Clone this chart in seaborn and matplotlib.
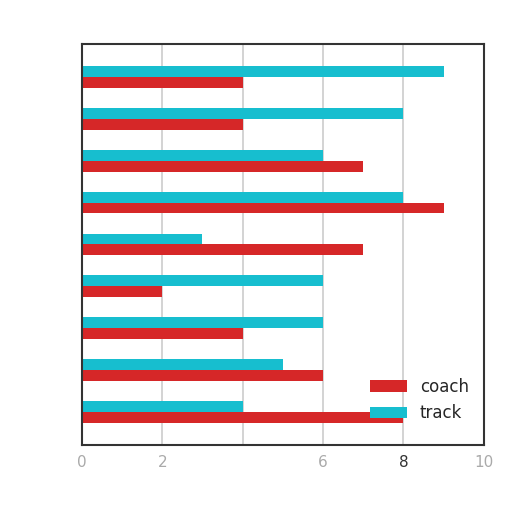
import pandas as pd
import seaborn as sns
import matplotlib.pyplot as plt

groups = [str(i) for i in range(9)]
coach = [4, 4, 7, 9, 7, 2, 4, 6, 8]
track = [9, 8, 6, 8, 3, 6, 6, 5, 4]

df = pd.DataFrame({'group': groups * 2,
                   'value': coach + track,
                   'series': ['coach'] * 9 + ['track'] * 9})

sns.set_style('white')
fig, ax = plt.subplots(figsize=(5.12, 5.12), dpi=100)
fig.subplots_adjust(left=0.16, right=0.945, top=0.915, bottom=0.13)
sns.barplot(data=df, y='group', x='value', hue='series', orient='h',
            hue_order=['track', 'coach'],
            palette={'coach': '#d62728', 'track': '#17becf'},
            saturation=1, width=0.52, linewidth=0, ax=ax)
ax.set_xlim(0, 10)
ax.set_ylim(8.8, -0.8)
ax.set_xticks([0, 2, 4, 6, 8, 10])
ax.set_xticklabels(['0', '2', '', '6', '8', '10'], fontsize=11)
for lbl in ax.get_xticklabels():
    lbl.set_color('#333333' if lbl.get_text() == '8' else '#aaaaaa')
ax.set_yticks([])
ax.set_xlabel('')
ax.set_ylabel('')
ax.xaxis.grid(True, color='#cccccc', linewidth=1.2)
ax.set_axisbelow(True)
for s in ax.spines.values():
    s.set_color('#333333')
    s.set_linewidth(1.5)
h, l = ax.get_legend_handles_labels()
ax.legend(h[::-1], l[::-1], loc='lower right', frameon=False, fontsize=12,
          handlelength=2.2, bbox_to_anchor=(1.0, 0.02))
fig.savefig('out.png')
